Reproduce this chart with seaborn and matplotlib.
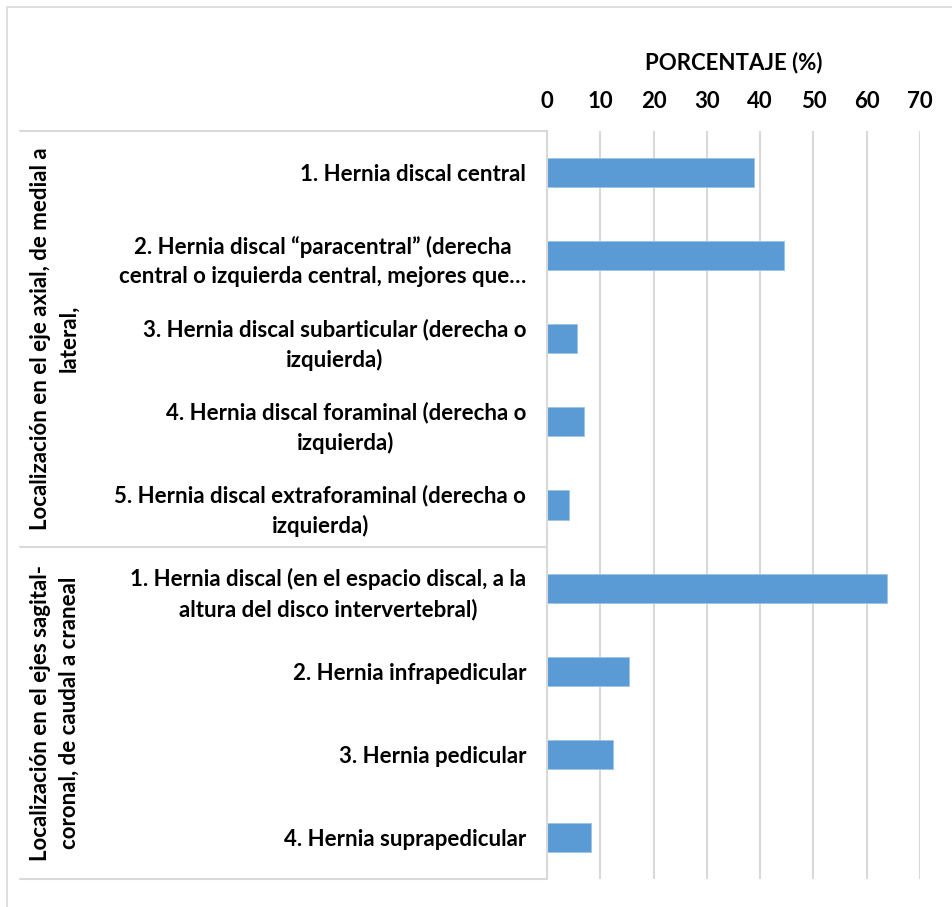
import matplotlib
matplotlib.use("Agg")
import matplotlib.pyplot as plt
import matplotlib.transforms as mtransforms
from matplotlib.patches import Rectangle
from matplotlib.lines import Line2D
import seaborn as sns
import pandas as pd

sns.set_theme(style="white")
plt.rcParams["font.family"] = ["Lato", "DejaVu Sans"]
plt.rcParams["font.weight"] = "bold"

# Categories (top to bottom) and their percentages
categorias = [
    "1. Hernia discal central",
    "2. Hernia discal \u201cparacentral\u201d (derecha\ncentral o izquierda central, mejores que\u2026",
    "3. Hernia discal subarticular (derecha o\nizquierda)",
    "4. Hernia discal foraminal (derecha o\nizquierda)",
    "5. Hernia discal extraforaminal (derecha o\nizquierda)",
    "1. Hernia discal (en el espacio discal, a la\naltura del disco intervertebral)",
    "2. Hernia infrapedicular",
    "3. Hernia pedicular",
    "4. Hernia suprapedicular",
]
porcentajes = [38.9, 44.4, 5.6, 6.9, 4.1, 63.9, 15.3, 12.4, 8.3]

grupos = [
    "Localización en el eje axial, de medial a\nlateral,",
    "Localización en el ejes sagital-\ncoronal, de caudal a craneal",
]
grupo_tamanos = [5, 4]

ticks_x = [0, 10, 20, 30, 40, 50, 60, 70]
titulo_x = "PORCENTAJE (%)"

FS = 16
W, H = 953, 907
fig = plt.figure(figsize=(W / 100, H / 100), dpi=100)
ax = fig.add_axes([547 / W, 1 - 879 / H, (920 - 547) / W, (879 - 131) / H])

df = pd.DataFrame({"categoria": categorias, "porcentaje": porcentajes})
sns.barplot(data=df, x="porcentaje", y="categoria", orient="h",
            color="#5B9BD5", width=0.35, saturation=1,
            edgecolor="#9DC3E6", linewidth=0.6, ax=ax)

ax.set_xlim(0, 70)
ax.set_xticks(ticks_x)
ax.xaxis.tick_top()
ax.xaxis.set_label_position("top")
ax.set_xlabel(titulo_x, fontsize=FS, fontweight="bold", color="#000000", labelpad=15)
ax.tick_params(axis="x", length=0, pad=14, labelsize=FS, labelcolor="#000000")
ax.grid(axis="x", color="#D9D9D9", linewidth=1.5)
ax.set_axisbelow(True)
for side in ["top", "right", "bottom"]:
    ax.spines[side].set_visible(False)
ax.spines["left"].set_color("#D9D9D9")
ax.spines["left"].set_linewidth(1.5)

ax.set_ylabel("")
ax.tick_params(axis="y", length=0, pad=15, labelsize=FS, labelcolor="#000000")
for t in ax.get_yticklabels():
    t.set_multialignment("center")
    t.set_linespacing(1.45)
    t.set_fontweight("bold")
for t in ax.get_xticklabels():
    t.set_fontweight("bold")

# Group separators and labels of the multi-level category axis
trans = mtransforms.blended_transform_factory(fig.transFigure, ax.transData)
bordes = [-0.5]
for n in grupo_tamanos:
    bordes.append(bordes[-1] + n)
for y in bordes:
    fig.add_artist(Line2D([20 / W, 547 / W], [y, y], transform=trans,
                          color="#D9D9D9", linewidth=1.5))
for g, a, b in zip(grupos, bordes[:-1], bordes[1:]):
    fig.text(55 / W, (a + b) / 2, g, transform=trans, rotation=90,
             ha="center", va="center", multialignment="center",
             fontsize=FS, fontweight="bold", linespacing=1.45, color="#000000")

# Chart frame
fig.add_artist(Rectangle((7 / W, -0.05), 1.1, 1 - 7 / H + 0.05,
                         transform=fig.transFigure, fill=False,
                         edgecolor="#D9D9D9", linewidth=1.2))

fig.savefig("out.png", dpi=100, facecolor="white")
